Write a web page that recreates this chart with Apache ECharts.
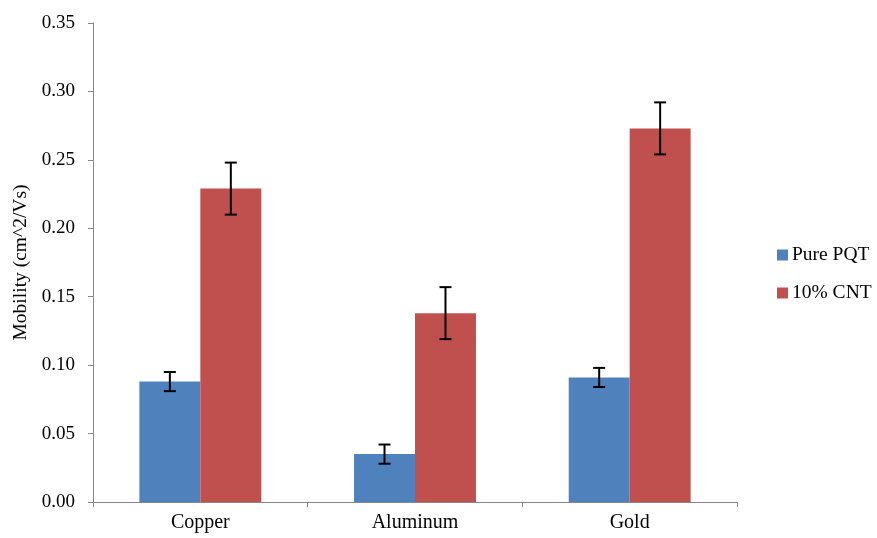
<!DOCTYPE html>
<html>
<head>
<meta charset="utf-8">
<script src="https://cdn.jsdelivr.net/npm/echarts@6/dist/echarts.min.js"></script>
<style>
  html, body { margin: 0; padding: 0; background: #fff; }
  #chart { width: 877px; height: 538px; }
</style>
</head>
<body>
<div id="chart"></div>
<script>
// Mobility measurements per electrode metal
const categories = ['Copper', 'Aluminum', 'Gold'];
const seriesNames = ['Pure PQT', '10% CNT'];
const purePQT = [0.088, 0.035, 0.091];
const purePQTErr = [0.007, 0.007, 0.007];
const cnt10 = [0.229, 0.138, 0.273];
const cnt10Err = [0.019, 0.019, 0.019];

const FONT = '"Liberation Serif", "Times New Roman", serif';
const BAR_FRAC = 0.284; // bar width as a fraction of the category band

const chart = echarts.init(document.getElementById('chart'), null, { renderer: 'canvas' });

// Error-bar renderer; side = -1 for the left bar of a pair, +1 for the right
function errorBars(values, errs, side) {
  return {
    type: 'custom',
    z: 10,
    silent: true,
    renderItem: function (params, api) {
      const i = api.value(0);
      const v = api.value(1);
      const e = api.value(2);
      const band = api.size([1, 0])[0];
      const bw = band * BAR_FRAC;
      const c = api.coord([i, v]);
      const x = c[0] + side * bw / 2;
      const top = api.coord([i, v + e])[1];
      const bot = api.coord([i, v - e])[1];
      const cap = 6;
      const style = { stroke: '#000', lineWidth: 2 };
      return {
        type: 'group',
        children: [
          { type: 'line', shape: { x1: x, y1: top, x2: x, y2: bot }, style: style },
          { type: 'line', shape: { x1: x - cap, y1: top, x2: x + cap, y2: top }, style: style },
          { type: 'line', shape: { x1: x - cap, y1: bot, x2: x + cap, y2: bot }, style: style }
        ]
      };
    },
    data: values.map(function (v, i) { return [i, v, errs[i]]; })
  };
}

chart.setOption({
  animation: false,
  backgroundColor: '#fff',
  textStyle: { fontFamily: FONT },
  grid: { left: 93, right: 140, top: 23, bottom: 36, containLabel: false },
  legend: {
    orient: 'vertical',
    left: 777,
    top: 245,
    padding: 0,
    itemWidth: 11,
    itemHeight: 11,
    itemGap: 18,
    icon: 'rect',
    data: seriesNames,
    textStyle: { fontFamily: FONT, fontSize: 19.5, lineHeight: 20, color: '#000', padding: [0, 0, 0, -1] }
  },
  xAxis: {
    type: 'category',
    data: categories,
    axisLine: { lineStyle: { color: '#868686', width: 1 } },
    axisTick: { show: true, alignWithLabel: false, length: 5, lineStyle: { color: '#868686' } },
    axisLabel: { fontFamily: FONT, fontSize: 20, color: '#000', margin: 11 }
  },
  yAxis: {
    type: 'value',
    min: 0,
    max: 0.35,
    interval: 0.05,
    name: 'Mobility (cm^2/Vs)',
    nameLocation: 'middle',
    nameGap: 60,
    nameTextStyle: { fontFamily: FONT, fontSize: 19.5, color: '#000' },
    axisLine: { show: true, lineStyle: { color: '#868686', width: 1 } },
    axisTick: { show: true, length: 5, lineStyle: { color: '#868686' } },
    splitLine: { show: false },
    axisLabel: {
      fontFamily: FONT, fontSize: 19, color: '#000', margin: 18,
      formatter: function (v) { return v.toFixed(2); }
    }
  },
  series: [
    {
      name: seriesNames[0],
      type: 'bar',
      data: purePQT,
      barWidth: (BAR_FRAC * 100) + '%',
      barGap: '0%',
      itemStyle: { color: '#4F81BD' }
    },
    {
      name: seriesNames[1],
      type: 'bar',
      data: cnt10,
      barWidth: (BAR_FRAC * 100) + '%',
      barGap: '0%',
      itemStyle: { color: '#C0504D' }
    },
    errorBars(purePQT, purePQTErr, -1),
    errorBars(cnt10, cnt10Err, 1)
  ]
});
</script>
</body>
</html>
